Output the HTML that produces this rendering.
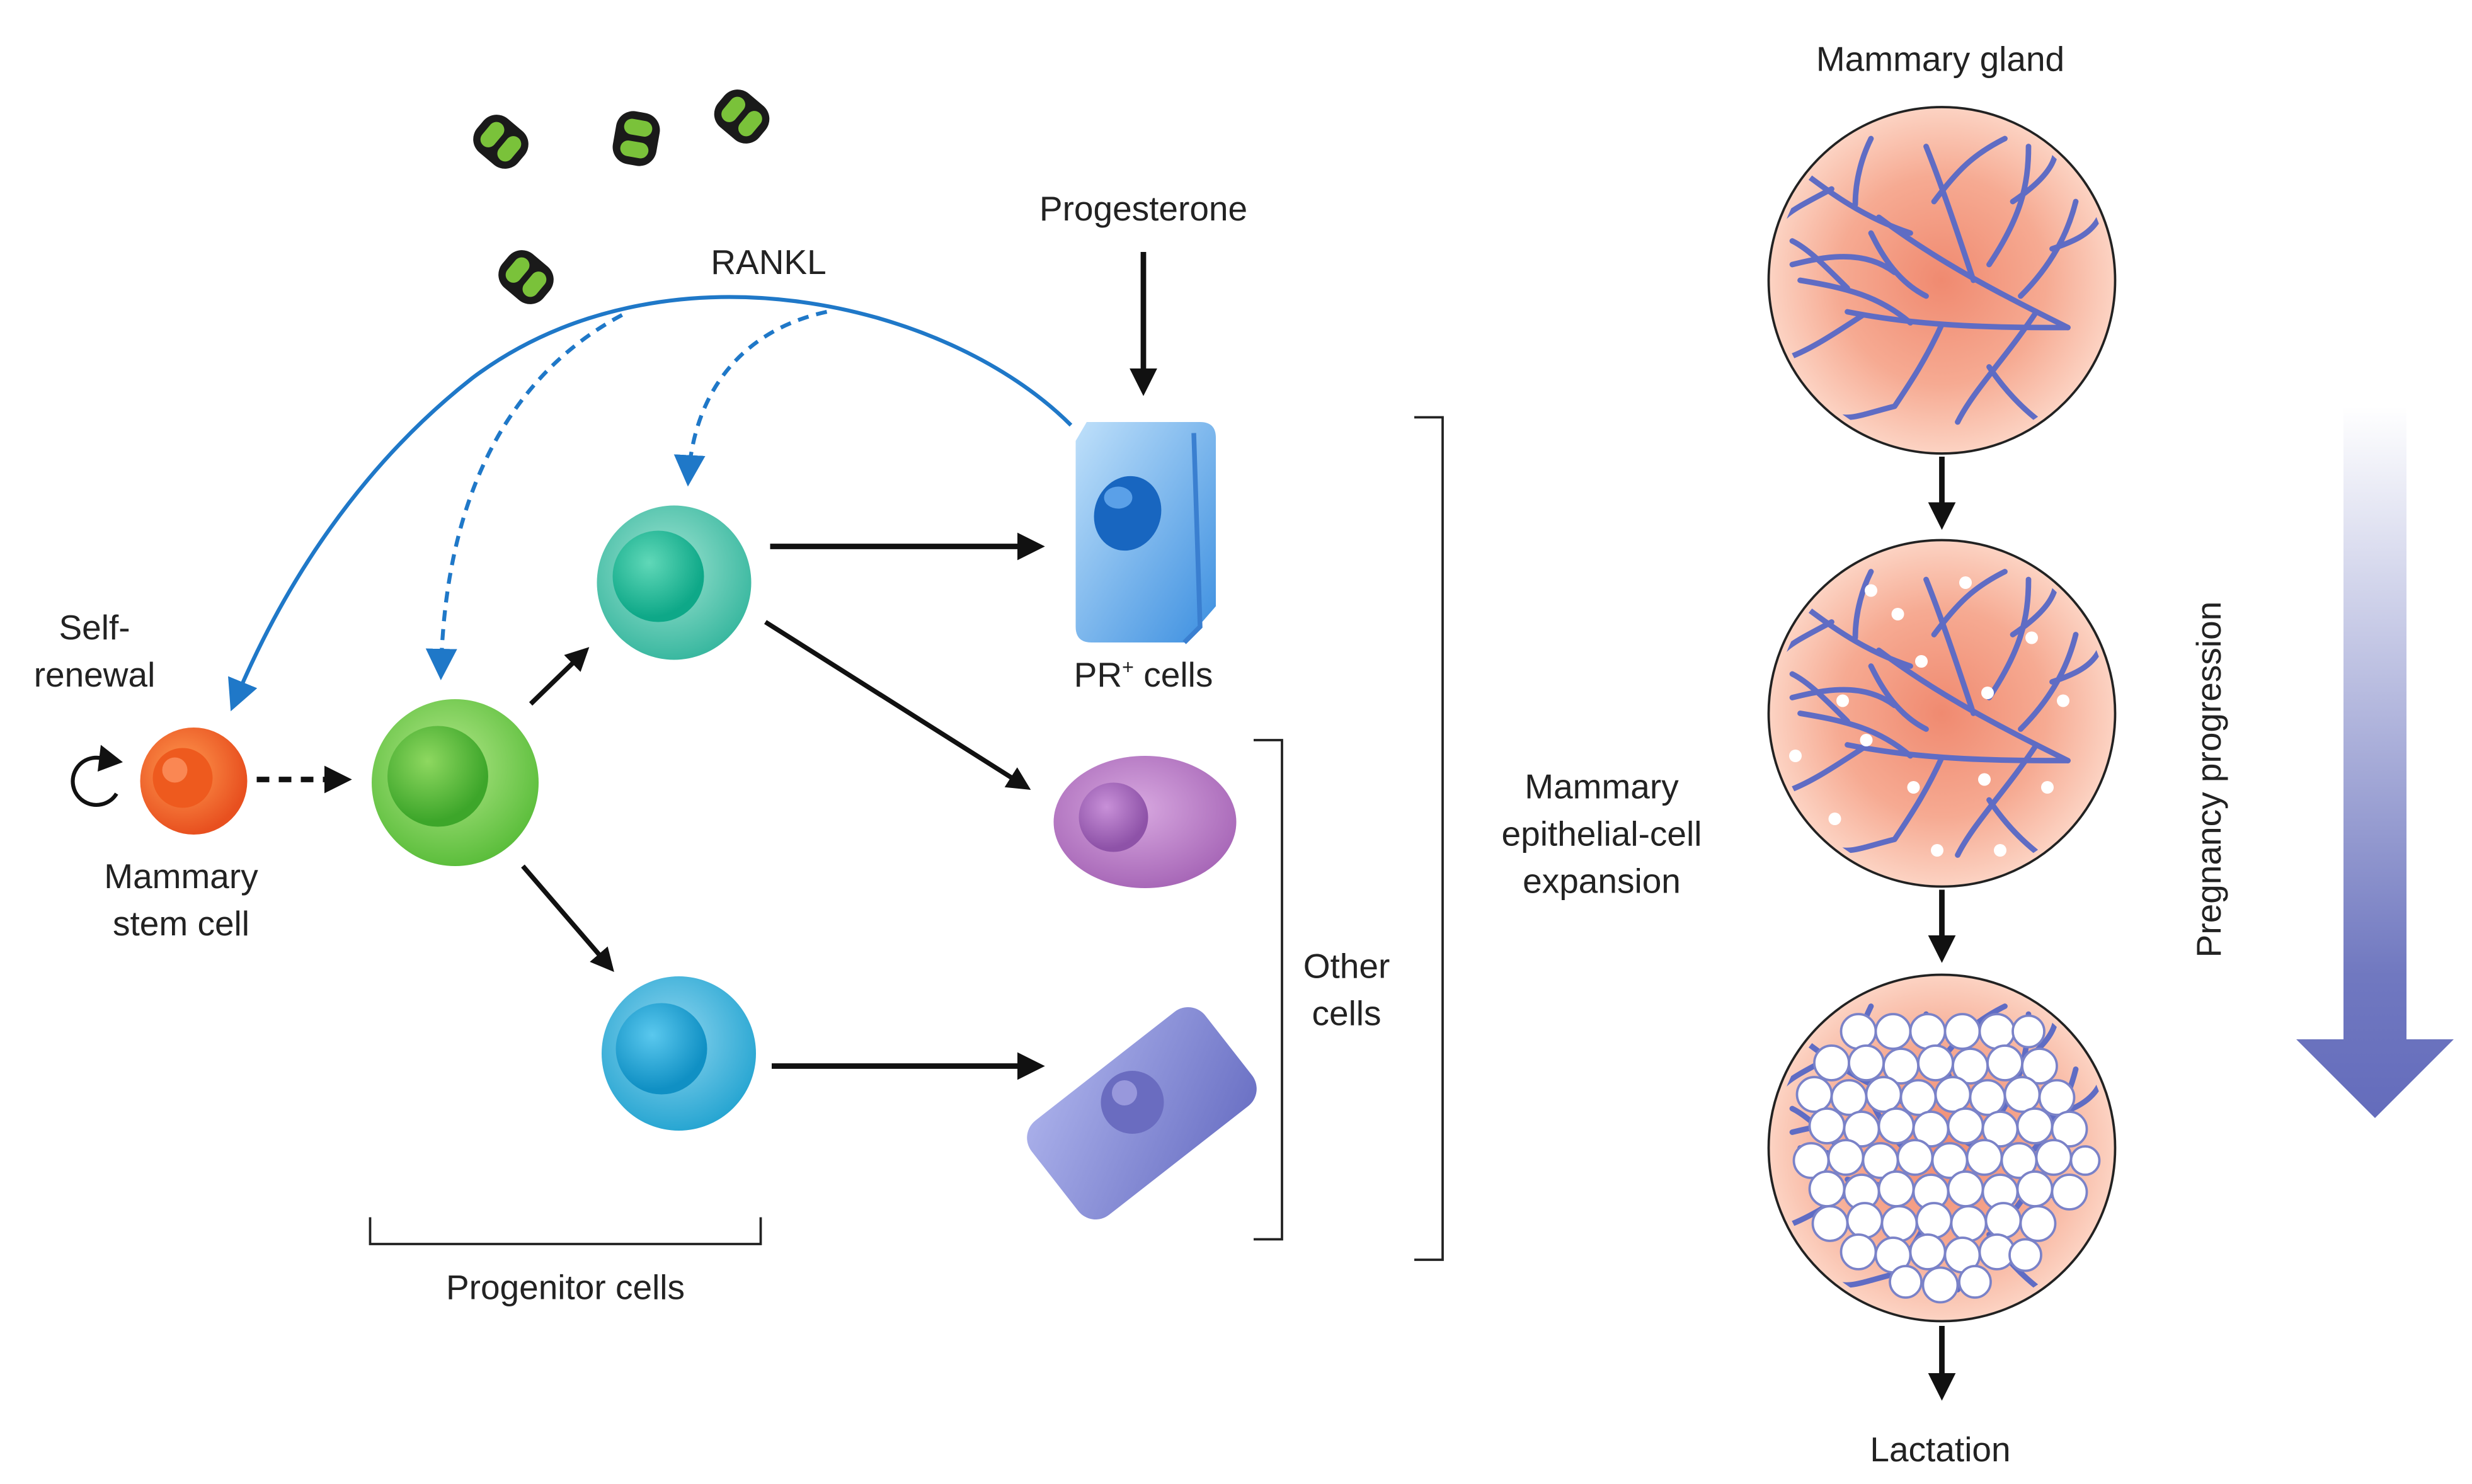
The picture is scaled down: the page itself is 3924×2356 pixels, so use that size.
<!DOCTYPE html>
<html><head><meta charset="utf-8"><style>
html,body{margin:0;padding:0;background:#fff;}
svg{display:block;}
text{font-family:"Liberation Sans",Arial,sans-serif;font-size:22px;fill:#222;}
</style></head><body>
<svg width="3924" height="2356" viewBox="0 0 1569.6 942.4" xmlns="http://www.w3.org/2000/svg">
<defs>
<radialGradient id="gland" cx="0.5" cy="0.5" r="0.5"><stop offset="0" stop-color="#f08a70"/><stop offset="0.6" stop-color="#f6aa92"/><stop offset="1" stop-color="#fcd3c3"/></radialGradient>
<radialGradient id="orange" cx="0.4" cy="0.4" r="0.6"><stop offset="0" stop-color="#ff9a50"/><stop offset="1" stop-color="#e8501f"/></radialGradient>
<radialGradient id="green" cx="0.45" cy="0.4" r="0.6"><stop offset="0" stop-color="#b4e88a"/><stop offset="1" stop-color="#5cbe3c"/></radialGradient>
<radialGradient id="greenN" cx="0.4" cy="0.35" r="0.6"><stop offset="0" stop-color="#8ed860"/><stop offset="1" stop-color="#3da62a"/></radialGradient>
<radialGradient id="teal" cx="0.45" cy="0.4" r="0.6"><stop offset="0" stop-color="#9fe4d2"/><stop offset="1" stop-color="#3ab8a0"/></radialGradient>
<radialGradient id="tealN" cx="0.4" cy="0.35" r="0.6"><stop offset="0" stop-color="#60d8b8"/><stop offset="1" stop-color="#0ea888"/></radialGradient>
<radialGradient id="blue" cx="0.45" cy="0.4" r="0.6"><stop offset="0" stop-color="#8fd6f0"/><stop offset="1" stop-color="#28a6d2"/></radialGradient>
<radialGradient id="blueN" cx="0.4" cy="0.35" r="0.6"><stop offset="0" stop-color="#5ac8ee"/><stop offset="1" stop-color="#1090c4"/></radialGradient>
<radialGradient id="purp" cx="0.45" cy="0.4" r="0.6"><stop offset="0" stop-color="#d8a8e0"/><stop offset="1" stop-color="#a868b8"/></radialGradient>
<radialGradient id="purpN" cx="0.4" cy="0.35" r="0.6"><stop offset="0" stop-color="#c890d8"/><stop offset="1" stop-color="#8e52a8"/></radialGradient>
<linearGradient id="pr" x1="0" y1="0" x2="1" y2="1"><stop offset="0" stop-color="#bfe0fa"/><stop offset="1" stop-color="#3c8fe0"/></linearGradient>
<linearGradient id="lav" x1="0" y1="0" x2="1" y2="1"><stop offset="0" stop-color="#aab0ea"/><stop offset="1" stop-color="#6a70c4"/></linearGradient>
<linearGradient id="prog" x1="0" y1="0" x2="0" y2="1"><stop offset="0" stop-color="#ffffff"/><stop offset="0.8" stop-color="#7078c0"/><stop offset="1" stop-color="#646cbc"/></linearGradient>
<marker id="ah" viewBox="0 0 10 10" refX="8" refY="5" markerWidth="5" markerHeight="5" orient="auto"><path d="M0,0 L10,5 L0,10 z" fill="#111"/></marker>
<marker id="ahb" viewBox="0 0 10 10" refX="8" refY="5" markerWidth="8" markerHeight="8" orient="auto"><path d="M0,0 L10,5 L0,10 z" fill="#1f78c8"/></marker>
<clipPath id="cc"><circle cx="0" cy="0" r="106"/></clipPath>
<g id="rankl"><rect x="-17" y="-14" width="34" height="28" rx="11" fill="#1a1a1a"/><rect x="-12" y="-9" width="10" height="18" rx="5" fill="#7ac23a"/><rect x="2" y="-9" width="10" height="18" rx="5" fill="#7ac23a"/></g>
<g id="tree" fill="none" stroke="#5f6cc4" stroke-width="3.5" stroke-linecap="round" clip-path="url(#cc)">
<path d="M80,30 C40,10 0,-10 -40,-40 M20,0 C10,-30 0,-60 -10,-85 M-5,-50 C10,-70 20,-80 40,-90 M-20,-30 C-50,-40 -70,-55 -90,-70 M-55,-48 C-55,-65 -50,-80 -45,-90 M-70,-58 C-85,-50 -95,-45 -100,-40"/>
<path d="M80,30 C40,30 -10,30 -60,20 M-20,27 C-40,10 -60,5 -90,0 M-60,5 C-75,-10 -85,-20 -95,-25 M-50,22 C-70,35 -85,45 -100,50 M0,28 C-10,50 -20,65 -30,80 M-30,80 C-50,85 -60,90 -70,85"/>
<path d="M60,20 C40,50 20,70 10,90 M30,55 C40,70 50,80 60,88 M50,10 C70,-10 80,-30 85,-50 M70,-20 C85,-25 95,-30 100,-40 M30,-10 C50,-40 55,-60 55,-85 M45,-50 C60,-60 70,-70 72,-80 M-30,-5 C-50,-20 -75,-15 -95,-10 M-10,10 C-30,0 -40,-20 -45,-30"/>
</g>
</defs>

<use href="#rankl" transform="translate(318,90) rotate(40)"/>
<use href="#rankl" transform="translate(404,88) rotate(-80)"/>
<use href="#rankl" transform="translate(471,74) rotate(40)"/>
<use href="#rankl" transform="translate(334,176) rotate(40)"/>
<text x="488" y="174" text-anchor="middle">RANKL</text>

<text x="726" y="140" text-anchor="middle">Progesterone</text>
<line x1="726" y1="160" x2="726" y2="248" stroke="#111" stroke-width="3.5" marker-end="url(#ah)"/>

<path d="M680,270 C600,190 420,150 300,240 C230,295 180,370 148,448" fill="none" stroke="#1f78c8" stroke-width="2.5" marker-end="url(#ahb)"/>
<path d="M395,200 C320,240 282,320 280,428" fill="none" stroke="#1f78c8" stroke-width="2.5" stroke-dasharray="7,5" marker-end="url(#ahb)"/>
<path d="M525,198 C470,210 440,250 437,305" fill="none" stroke="#1f78c8" stroke-width="2.5" stroke-dasharray="7,5" marker-end="url(#ahb)"/>

<path d="M690,268 L762,268 Q772,268 772,278 L772,385 L752,408 L693,408 Q683,408 683,398 L683,280 Z" fill="url(#pr)"/>
<path d="M758,275 L762,398 L752,408" fill="none" stroke="#3a7fd0" stroke-width="3"/>
<ellipse cx="716" cy="326" rx="21" ry="24" fill="#1866c0" transform="rotate(20 716 326)"/>
<ellipse cx="710" cy="316" rx="9" ry="7" fill="#5aa0e8"/>
<text x="726" y="436" text-anchor="middle">PR<tspan font-size="13" dy="-8">+</tspan><tspan dy="8"> cells</tspan></text>

<circle cx="428" cy="370" r="49" fill="url(#teal)"/>
<circle cx="418" cy="366" r="29" fill="url(#tealN)"/>
<line x1="489" y1="347" x2="660" y2="347" stroke="#111" stroke-width="3.5" marker-end="url(#ah)"/>
<line x1="486" y1="395" x2="652" y2="500" stroke="#111" stroke-width="3" marker-end="url(#ah)"/>

<circle cx="289" cy="497" r="53" fill="url(#green)"/>
<circle cx="278" cy="493" r="32" fill="url(#greenN)"/>
<line x1="337" y1="447" x2="372" y2="413" stroke="#111" stroke-width="3" marker-end="url(#ah)"/>
<line x1="332" y1="550" x2="388" y2="615" stroke="#111" stroke-width="3" marker-end="url(#ah)"/>

<circle cx="123" cy="496" r="34" fill="url(#orange)"/>
<circle cx="116" cy="494" r="19" fill="#ee5a1e"/>
<circle cx="111" cy="489" r="8" fill="#ff9a6a" opacity="0.7"/>
<line x1="163" y1="495" x2="220" y2="495" stroke="#111" stroke-width="3.5" stroke-dasharray="8,6" marker-end="url(#ah)"/>
<path d="M70,484 A15,15 0 1 0 74,504" fill="none" stroke="#111" stroke-width="2.5"/>
<path d="M64,473 L78,484 L62,490 Z" fill="#111"/>
<text x="60" y="406" text-anchor="middle">Self-</text>
<text x="60" y="436" text-anchor="middle">renewal</text>
<text x="115" y="564" text-anchor="middle">Mammary</text>
<text x="115" y="594" text-anchor="middle">stem cell</text>

<circle cx="431" cy="669" r="49" fill="url(#blue)"/>
<circle cx="420" cy="666" r="29" fill="url(#blueN)"/>
<line x1="490" y1="677" x2="660" y2="677" stroke="#111" stroke-width="3.5" marker-end="url(#ah)"/>

<ellipse cx="727" cy="522" rx="58" ry="42" fill="url(#purp)"/>
<circle cx="707" cy="519" r="22" fill="url(#purpN)"/>

<g transform="translate(725,707) rotate(-38)">
<rect x="-70" y="-38" width="140" height="76" rx="14" fill="url(#lav)"/>
</g>
<circle cx="719" cy="700" r="20" fill="#6a6cc0"/>
<circle cx="714" cy="694" r="8" fill="#9898dc"/>

<path d="M235,773 L235,790 L483,790 L483,773" fill="none" stroke="#222" stroke-width="1.5"/>
<text x="359" y="825" text-anchor="middle">Progenitor cells</text>
<path d="M796,470 L814,470 L814,787 L796,787" fill="none" stroke="#222" stroke-width="1.5"/>
<text x="855" y="621" text-anchor="middle">Other</text>
<text x="855" y="651" text-anchor="middle">cells</text>
<path d="M898,265 L916,265 L916,800 L898,800" fill="none" stroke="#222" stroke-width="1.5"/>
<text x="1017" y="507" text-anchor="middle">Mammary</text>
<text x="1017" y="537" text-anchor="middle">epithelial-cell</text>
<text x="1017" y="567" text-anchor="middle">expansion</text>

<text x="1232" y="45" text-anchor="middle">Mammary gland</text>
<circle cx="1233" cy="178" r="110" fill="url(#gland)" stroke="#222" stroke-width="1.5"/>
<use href="#tree" transform="translate(1233,178)"/>
<line x1="1233" y1="290" x2="1233" y2="333" stroke="#111" stroke-width="3.5" marker-end="url(#ah)"/>

<circle cx="1233" cy="453" r="110" fill="url(#gland)" stroke="#222" stroke-width="1.5"/>
<use href="#tree" transform="translate(1233,453)"/>
<g fill="#fff">
<circle cx="1188" cy="375" r="4"/><circle cx="1248" cy="370" r="4"/><circle cx="1290" cy="405" r="4"/><circle cx="1170" cy="445" r="4"/><circle cx="1220" cy="420" r="4"/><circle cx="1185" cy="470" r="4"/><circle cx="1262" cy="440" r="4"/><circle cx="1310" cy="445" r="4"/><circle cx="1140" cy="480" r="4"/><circle cx="1215" cy="500" r="4"/><circle cx="1270" cy="540" r="4"/><circle cx="1165" cy="520" r="4"/><circle cx="1230" cy="540" r="4"/><circle cx="1300" cy="500" r="4"/><circle cx="1260" cy="495" r="4"/><circle cx="1205" cy="390" r="4"/>
</g>
<line x1="1233" y1="565" x2="1233" y2="608" stroke="#111" stroke-width="3.5" marker-end="url(#ah)"/>

<circle cx="1233" cy="729" r="110" fill="url(#gland)" stroke="#222" stroke-width="1.5"/>
<use href="#tree" transform="translate(1233,729)"/>
<g fill="#fff" stroke="#7a82c8" stroke-width="1.5">
<circle cx="1180" cy="655" r="11"/><circle cx="1202" cy="655" r="11"/><circle cx="1224" cy="655" r="11"/><circle cx="1246" cy="655" r="11"/><circle cx="1268" cy="655" r="11"/><circle cx="1288" cy="655" r="10"/>
<circle cx="1163" cy="675" r="11"/><circle cx="1185" cy="675" r="11"/><circle cx="1207" cy="677" r="11"/><circle cx="1229" cy="675" r="11"/><circle cx="1251" cy="677" r="11"/><circle cx="1273" cy="675" r="11"/><circle cx="1295" cy="677" r="11"/>
<circle cx="1152" cy="695" r="11"/><circle cx="1174" cy="697" r="11"/><circle cx="1196" cy="695" r="11"/><circle cx="1218" cy="697" r="11"/><circle cx="1240" cy="695" r="11"/><circle cx="1262" cy="697" r="11"/><circle cx="1284" cy="695" r="11"/><circle cx="1306" cy="697" r="11"/>
<circle cx="1160" cy="715" r="11"/><circle cx="1182" cy="717" r="11"/><circle cx="1204" cy="715" r="11"/><circle cx="1226" cy="717" r="11"/><circle cx="1248" cy="715" r="11"/><circle cx="1270" cy="717" r="11"/><circle cx="1292" cy="715" r="11"/><circle cx="1314" cy="717" r="11"/>
<circle cx="1150" cy="737" r="11"/><circle cx="1172" cy="735" r="11"/><circle cx="1194" cy="737" r="11"/><circle cx="1216" cy="735" r="11"/><circle cx="1238" cy="737" r="11"/><circle cx="1260" cy="735" r="11"/><circle cx="1282" cy="737" r="11"/><circle cx="1304" cy="735" r="11"/><circle cx="1324" cy="737" r="9"/>
<circle cx="1160" cy="755" r="11"/><circle cx="1182" cy="757" r="11"/><circle cx="1204" cy="755" r="11"/><circle cx="1226" cy="757" r="11"/><circle cx="1248" cy="755" r="11"/><circle cx="1270" cy="757" r="11"/><circle cx="1292" cy="755" r="11"/><circle cx="1314" cy="757" r="11"/>
<circle cx="1162" cy="777" r="11"/><circle cx="1184" cy="775" r="11"/><circle cx="1206" cy="777" r="11"/><circle cx="1228" cy="775" r="11"/><circle cx="1250" cy="777" r="11"/><circle cx="1272" cy="775" r="11"/><circle cx="1294" cy="777" r="11"/>
<circle cx="1180" cy="795" r="11"/><circle cx="1202" cy="797" r="11"/><circle cx="1224" cy="795" r="11"/><circle cx="1246" cy="797" r="11"/><circle cx="1268" cy="795" r="11"/><circle cx="1286" cy="797" r="10"/>
<circle cx="1210" cy="814" r="10"/><circle cx="1232" cy="816" r="11"/><circle cx="1254" cy="814" r="10"/>
</g>
<line x1="1233" y1="842" x2="1233" y2="886" stroke="#111" stroke-width="3.5" marker-end="url(#ah)"/>
<text x="1232" y="928" text-anchor="middle">Lactation</text>

<path d="M1488,258 L1528,258 L1528,660 L1558,660 L1508,710 L1458,660 L1488,660 Z" fill="url(#prog)"/>
<text x="1410" y="495" text-anchor="middle" transform="rotate(-90 1410 495)">Pregnancy progression</text>
</svg>
</body></html>
